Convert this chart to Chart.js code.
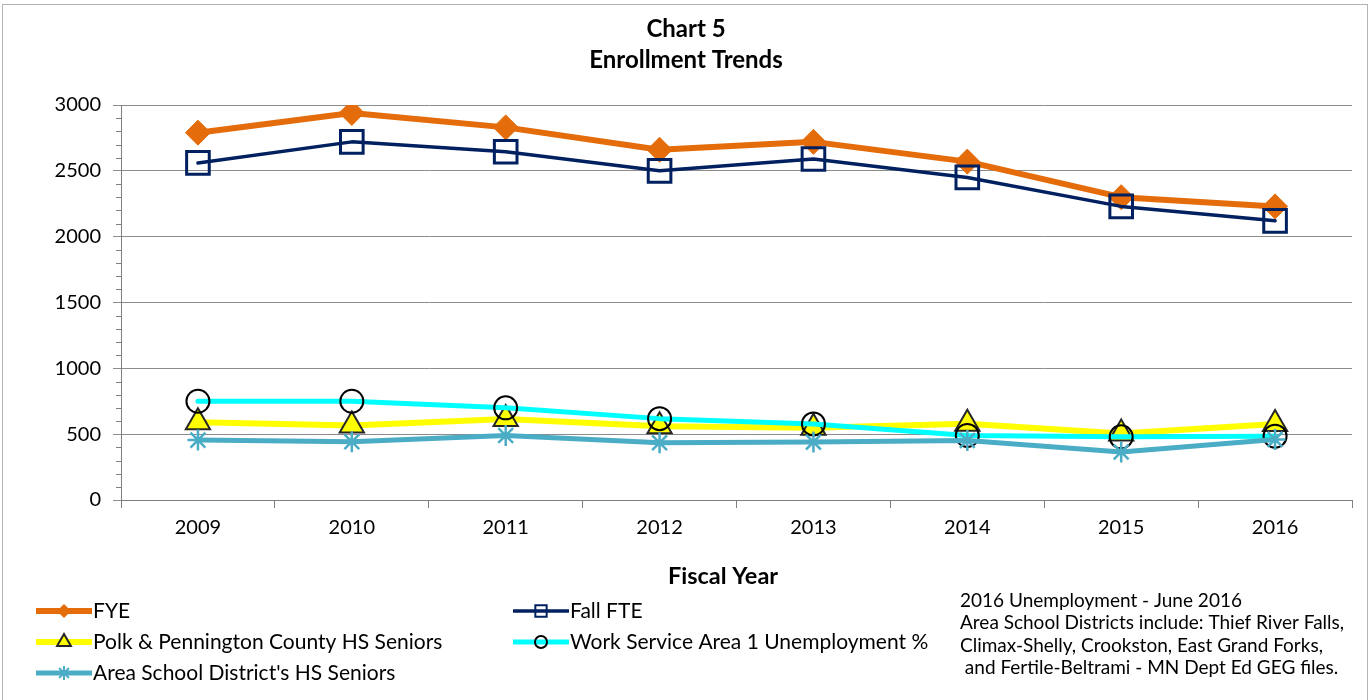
<!DOCTYPE html>
<html>
<head>
<meta charset="utf-8">
<script src="https://cdn.jsdelivr.net/npm/chart.js@4.4.1/dist/chart.umd.min.js"></script>
<style>
body{margin:0;background:#fff;}
#wrap{position:relative;width:1372px;height:700px;}
</style>
</head>
<body>
<div id="wrap"><canvas id="enrollChart" width="1372" height="700"></canvas></div>
<script>
// values
const years = ["2009","2010","2011","2012","2013","2014","2015","2016"];
const fye = [2790, 2940, 2830, 2660, 2720, 2570, 2300, 2230];
const fallFte = [2560, 2720, 2645, 2500, 2590, 2450, 2230, 2120];
const polkSeniors = [590, 565, 615, 560, 548, 580, 505, 578];
const unemployment = [750, 750, 700, 618, 578, 490, 480, 485];
const areaSeniors = [455, 442, 490, 435, 440, 452, 365, 460];

const noteLines = [
    "2016 Unemployment - June 2016",
    "Area School Districts include: Thief River Falls,",
    "Climax-Shelly, Crookston, East Grand Forks,",
    " and Fertile-Beltrami - MN Dept Ed GEG files."
];

const FONT = "Lato";

// small legend sample for each dataset, [column, row]
const legendSlots = [[0,0],[1,0],[0,1],[1,1],[0,2]];
const legendMarkers = [6.5, 8, 8, 6, 7];

const extrasPlugin = {
    id: "extras",
    beforeDatasetsDraw(chart){
        // minor tick marks on the value axis
        const ctx = chart.ctx, y = chart.scales.y, left = chart.chartArea.left;
        ctx.save();
        ctx.strokeStyle = "#7f7f7f";
        ctx.lineWidth = 1;
        for(let v=0; v<=3000; v+=100){
            if(v%500===0) continue;
            const py = Math.round(y.getPixelForValue(v))+0.5;
            ctx.beginPath();
            ctx.moveTo(left-5,py);
            ctx.lineTo(left,py);
            ctx.stroke();
        }
        ctx.restore();
    },
    afterDraw(chart){
        const ctx = chart.ctx;
        ctx.save();
        // outer frame
        ctx.strokeStyle = "#b4b4b4";
        ctx.lineWidth = 1;
        ctx.strokeRect(2.5,4.5,1365,700);

        ctx.fillStyle = "#000";
        ctx.textBaseline = "middle";
        ctx.textAlign = "center";
        ctx.font = "bold 23.5px " + FONT;
        ctx.fillText("Fiscal Year", 723, 576);

        // legend
        ctx.textAlign = "left";
        ctx.font = "21px " + FONT;
        chart.data.datasets.forEach((ds,i)=>{
            const [c,r] = legendSlots[i];
            const x0 = c===0 ? 36 : 513;
            const yy = 611 + r*31;
            ctx.strokeStyle = ds.borderColor;
            ctx.lineWidth = ds.borderWidth;
            ctx.beginPath();
            ctx.moveTo(x0,yy);
            ctx.lineTo(x0+56,yy);
            ctx.stroke();
            ctx.fillStyle = ds.pointBackgroundColor;
            ctx.strokeStyle = ds.pointBorderColor;
            ctx.lineWidth = Math.min(ds.pointBorderWidth,2);
            Chart.helpers.drawPoint(ctx,{pointStyle:ds.pointStyle,radius:legendMarkers[i],rotation:0,borderWidth:ctx.lineWidth},x0+28,yy);
            ctx.fillStyle = "#000";
            ctx.fillText(ds.label, x0+57, yy);
        });

        // note
        ctx.font = "19px " + FONT;
        noteLines.forEach((t,i)=>ctx.fillText(t, 960, 601 + i*22.3));
        ctx.restore();
    }
};

new Chart(document.getElementById("enrollChart"),{
    type:"line",
    data:{
        labels:years,
        datasets:[
            {label:"FYE",data:fye,borderColor:"#e46c0a",borderWidth:6,
             pointStyle:"rectRot",pointRadius:12.5,pointBackgroundColor:"#e46c0a",pointBorderColor:"#e46c0a",pointBorderWidth:1,order:5},
            {label:"Fall FTE",data:fallFte,borderColor:"#002060",borderWidth:3.5,
             pointStyle:"rect",pointRadius:16,pointBackgroundColor:"rgba(0,0,0,0)",pointBorderColor:"#002060",pointBorderWidth:3,order:4},
            {label:"Polk & Pennington County HS Seniors",data:polkSeniors,borderColor:"#ffff00",borderWidth:6,
             pointStyle:"triangle",pointRadius:14,pointBackgroundColor:"#ffff00",pointBorderColor:"#262626",pointBorderWidth:2,order:3},
            {label:"Work Service Area 1 Unemployment %",data:unemployment,borderColor:"#00ffff",borderWidth:5,
             pointStyle:"circle",pointRadius:11.5,pointBackgroundColor:"rgba(0,0,0,0)",pointBorderColor:"#000000",pointBorderWidth:2,order:2},
            {label:"Area School District's HS Seniors",data:areaSeniors,borderColor:"#4bacc6",borderWidth:5,
             pointStyle:"star",pointRadius:10.5,pointBackgroundColor:"#4bacc6",pointBorderColor:"#4bacc6",pointBorderWidth:2.5,order:1}
        ]
    },
    options:{
        responsive:false,
        animation:false,
        devicePixelRatio:1,
        layout:{padding:{top:14,left:20,right:20,bottom:0}},
        elements:{line:{tension:0,borderCapStyle:"round",borderJoinStyle:"round"},point:{hoverRadius:12}},
        plugins:{
            legend:{display:false},
            tooltip:{enabled:false},
            title:{
                display:true,
                text:["Chart 5","Enrollment Trends"],
                color:"#000",
                font:{family:FONT,size:24,weight:"bold",lineHeight:31/24},
                padding:{top:0,bottom:29}
            }
        },
        scales:{
            x:{
                offset:true,
                afterFit(s){ s.height = 200; },
                grid:{display:true,drawOnChartArea:false,offset:true,tickLength:8,color:"#7f7f7f"},
                border:{display:true,color:"#7f7f7f",width:1},
                ticks:{color:"#000",font:{family:FONT,size:20},padding:8,maxRotation:0}
            },
            y:{
                min:0,max:3000,
                afterFit(s){ s.width = 101; },
                grid:{color:"#8c8c8c",tickLength:8,lineWidth:1},
                border:{display:true,color:"#7f7f7f",width:1},
                ticks:{stepSize:500,color:"#000",font:{family:FONT,size:20},padding:12,callback:v=>String(v)}
            }
        }
    },
    plugins:[extrasPlugin]
});
</script>
</body>
</html>
